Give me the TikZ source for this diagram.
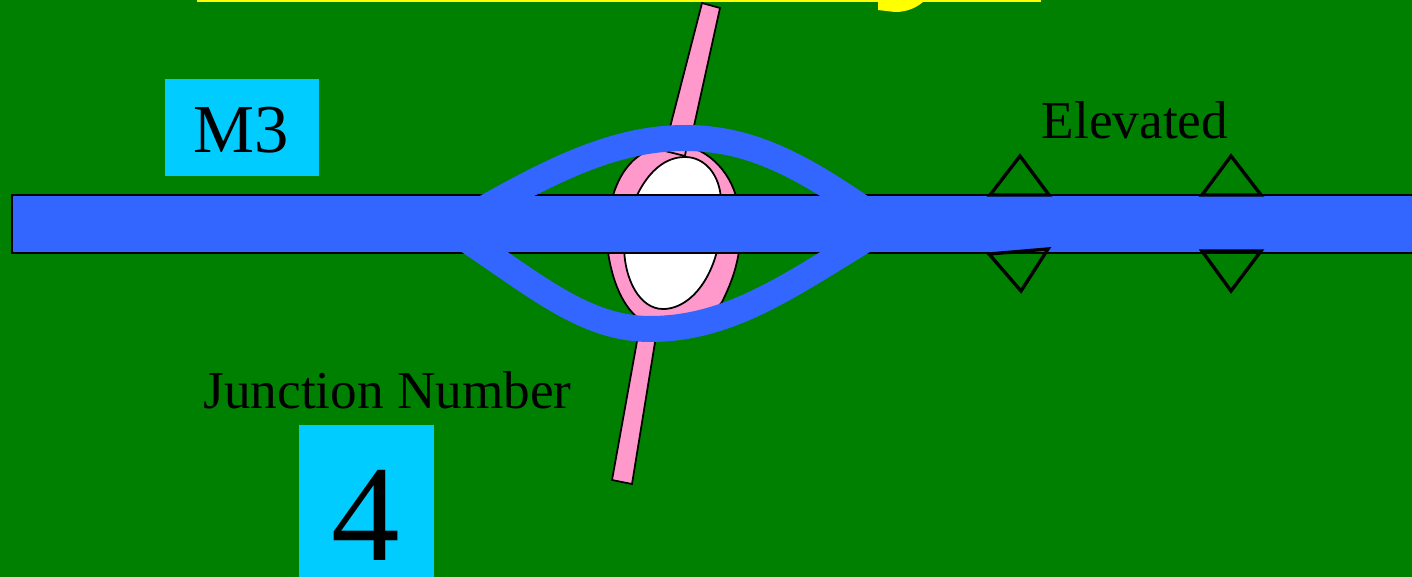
\documentclass[tikz,border=0pt]{standalone}
\usepackage{xcolor}
\usepackage{fontspec}
\setmainfont{Liberation Serif}
\definecolor{fieldgreen}{HTML}{008000}
\definecolor{roadblue}{HTML}{3366FF}
\definecolor{roadpink}{HTML}{FF99CC}
\definecolor{signcyan}{HTML}{00CCFF}
\definecolor{titleyellow}{HTML}{FFFF00}

\begin{document}
\begin{tikzpicture}[
    x=0.02cm, y=-0.02cm,
    pinkroad/.style={draw=black, line width=1pt, fill=roadpink},
    ramp/.style={draw=roadblue, line width=0.52cm},
    marker/.style={draw=black, line width=1.9pt, miter limit=10},
    signbox/.style={rectangle, fill=signcyan, inner sep=0pt, align=center},
    caption/.style={inner sep=0pt, anchor=base, font=\fontsize{30.3}{36}\selectfont}
]
    \useasboundingbox (0,0) rectangle (1412,577);
    \clip (0,0) rectangle (1412,577);
    \fill[fieldgreen] (0,0) rectangle (1412,577);

    % cut-off title
    \fill[titleyellow] (197,0) rectangle (1041,2);
    \fill[titleyellow] (878,0) -- (878,10) -- (895,12) .. controls (908,12) and (918,7) .. (925,0) -- cycle;

    % crossing road
    \draw[pinkroad] (702,3) -- (720,8) -- (692,135) -- (668,135) -- cycle;
    \draw[pinkroad] (639,330) -- (657,330) -- (632,484) -- (612,480) -- cycle;

    % roundabout
    \draw[pinkroad] (675,145) .. controls (705,145) and (730,170) .. (737,200)
        .. controls (745,240) and (738,270) .. (722,302)
        .. controls (705,325) and (690,330) .. (665,330)
        .. controls (625,325) and (612,280) .. (608,252)
        .. controls (604,205) and (618,145) .. (675,145) -- cycle;
    \draw[line width=1pt, fill=white] (685,157) .. controls (705,157) and (720,175) .. (721,200)
        .. controls (726,265) and (695,309) .. (663,309)
        .. controls (640,309) and (624,280) .. (624,245)
        .. controls (625,215) and (645,157) .. (685,157) -- cycle;
    \draw[line width=1pt] (665,151) -- (685,156) -- (686,150);

    % motorway
    \draw[line width=1pt, fill=roadblue] (12,194.7) rectangle (1430,252.7);
    \draw[ramp] (478,212) .. controls (560,165) and (620,138) .. (685,138) .. controls (750,138) and (800,165) .. (868,212);
    \draw[ramp] (464,238) .. controls (535,285) and (585,329) .. (650,329) .. controls (730,329) and (790,285) .. (868,238);

    % elevated markers
    \draw[marker] (990,195) -- (1020,156) -- (1049,195) -- cycle;
    \draw[marker] (1202,195) -- (1231,156) -- (1261,195) -- cycle;
    \draw[marker] (989,254) -- (1021,291) -- (1048,249) -- cycle;
    \draw[marker] (1202,251) -- (1231,291) -- (1261,251) -- cycle;

    \node[signbox, minimum width=3.08cm, text height=1.48cm, text depth=0.46cm, font=\fontsize{39}{46}\selectfont] (motorway) at (242,127.5) {\hspace*{-1pt}M3};
    \node[signbox, minimum width=2.7cm, minimum height=3.04cm] (numberbox) at (366.5,501) {};
    \node[inner sep=0pt, font=\fontsize{78}{94}\selectfont] (number) at (365.5,515) {4};
    \node[caption] (junction) at (387.5,408) {Junction Number};
    \node[caption] (elevated) at (1135,139) {Elevated};
\end{tikzpicture}
\end{document}
